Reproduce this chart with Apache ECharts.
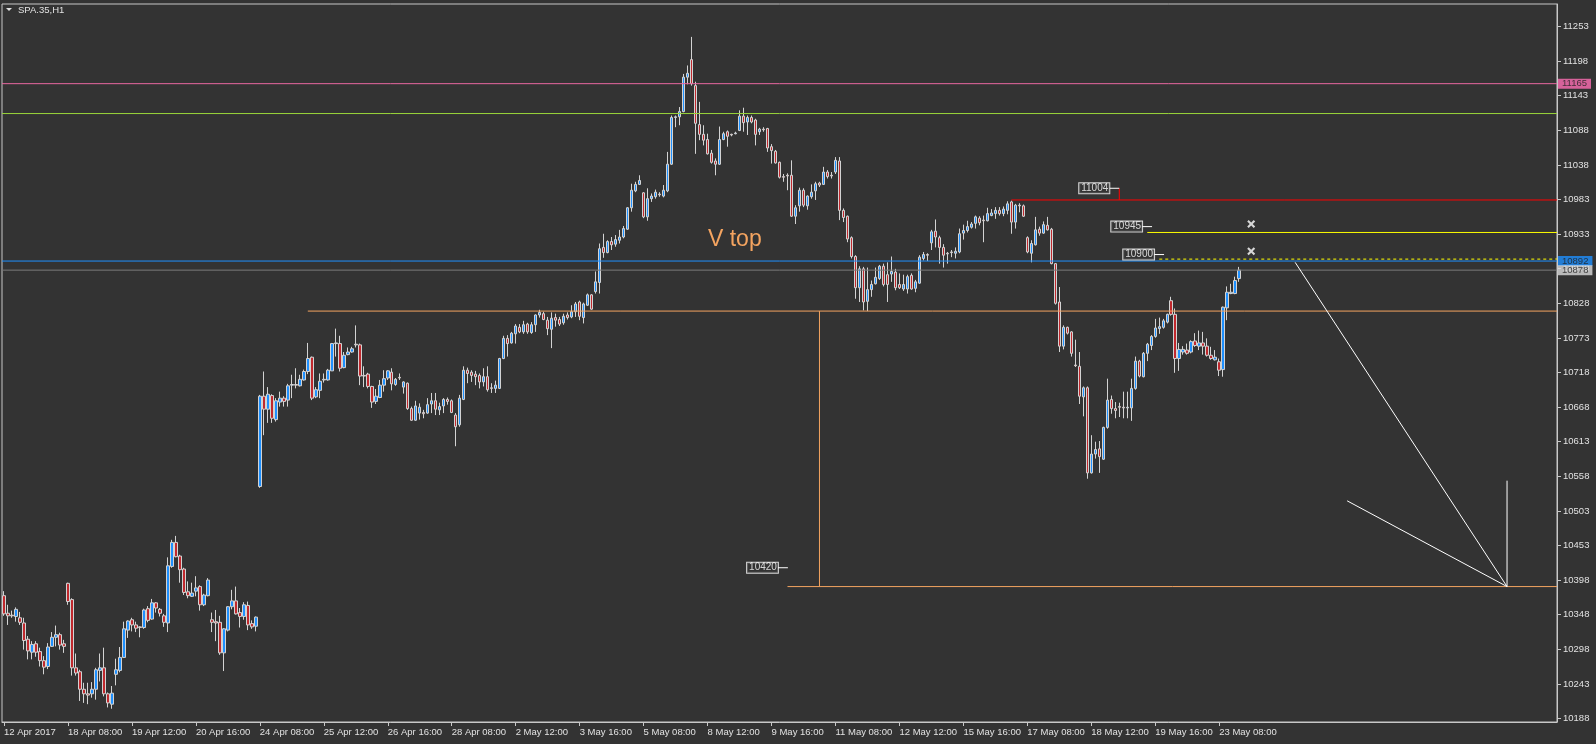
<!DOCTYPE html>
<html><head><meta charset="utf-8">
<script src="https://cdn.jsdelivr.net/npm/echarts@6/dist/echarts.min.js"></script>
<style>html,body{margin:0;padding:0;background:#333333;}#c{width:1596px;height:744px;}</style>
</head><body><div id="c"></div>
<script>
// ---------- candle data (hourly bars, SPA.35 H1) ----------
const openP = [
10377,10350,10347,10345,10343,10335,10310,10290,10303,10291,
10277,10268,10299,10313,10317,10303,10396,10371,10266,10260,
10233,10226,10226,10233,10262,10266,10226,10210,10256,10262,
10282,10324,10340,10332,10329,10328,10357,10341,10366,10356,
10346,10335,10422,10459,10438,10418,10383,10376,10384,10391,
10363,10377,10340,10337,10336,10289,10324,10360,10369,10351,
10345,10362,10334,10330,10545,10684,10664,10685,10648,10675,
10681,10678,10701,10702,10700,10709,10722,10744,10683,10693,
10709,10709,10723,10765,10765,10728,10748,10752,10764,10763,
10716,10718,10699,10676,10682,10701,10712,10721,10702,10713,
10698,10704,10665,10647,10658,10659,10658,10672,10677,10663,
10669,10679,10677,10655,10640,10679,10724,10721,10718,10716,
10706,10714,10697,10696,10696,10742,10773,10766,10780,10790,
10783,10795,10782,10794,10809,10811,10801,10787,10805,10802,
10797,10809,10806,10814,10829,10805,10824,10840,10845,10859,
10913,10905,10922,10918,10924,10929,10941,10974,11000,11010,
10997,10960,10988,10991,10995,10992,11000,11041,11113,11114,
11122,11175,11202,11162,11102,11087,11079,11058,11046,11041,
11079,11091,11087,11088,11093,11115,11106,11113,11109,11091,
11095,11096,11068,11061,11044,11022,11024,11024,10961,10977,
11001,10977,10991,11000,11012,11010,11029,11024,11029,11046,
10970,10961,10928,10899,10851,10880,10830,10848,10857,10865,
10884,10871,10872,10875,10856,10849,10849,10870,10850,10858,
10896,10902,10920,10938,10928,10913,10904,10906,10904,10906,
10935,10939,10944,10950,10958,10955,10954,10962,10965,10970,
10965,10970,10983,10952,10978,10977,10928,10904,10917,10941,
10935,10947,10941,10888,10829,10761,10790,10783,10732,10730,
10683,10697,10566,10595,10603,10587,10636,10679,10665,10668,
10667,10666,10666,10696,10738,10714,10750,10762,10776,10788,
10790,10798,10831,10810,10742,10752,10755,10752,10769,10761,
10766,10761,10747,10740,10737,10725,10820,10842,10842,10865];
const closeP = [
10349,10346,10346,10356,10336,10308,10292,10302,10290,10277,
10267,10298,10313,10317,10301,10299,10368,10266,10258,10233,
10226,10224,10233,10263,10266,10226,10212,10227,10263,10282,
10326,10338,10332,10327,10328,10355,10339,10366,10358,10350,
10336,10423,10459,10437,10417,10382,10377,10381,10389,10363,
10378,10401,10336,10335,10289,10326,10360,10369,10349,10345,
10363,10332,10329,10344,10684,10664,10687,10650,10677,10681,
10676,10700,10702,10701,10710,10722,10742,10681,10694,10707,
10710,10724,10765,10766,10727,10747,10752,10757,10763,10715,
10715,10699,10675,10684,10701,10711,10723,10703,10710,10712,
10706,10665,10647,10669,10667,10657,10671,10677,10664,10668,
10679,10676,10659,10637,10681,10724,10719,10716,10714,10706,
10714,10694,10696,10701,10742,10773,10765,10781,10792,10783,
10794,10783,10794,10809,10813,10802,10788,10804,10801,10795,
10807,10805,10814,10826,10807,10826,10840,10818,10860,10911,
10905,10922,10917,10925,10929,10942,10974,11001,11010,11016,
10960,10988,10992,10998,10994,11001,11041,11113,11114,11122,
11175,11181,11165,11104,11087,11078,11057,11044,11041,11079,
11088,11084,11086,11089,11115,11105,11113,11106,11087,11095,
11094,11066,11062,11043,11021,11021,11023,10961,10974,11001,
10978,10992,10998,11011,11009,11029,11022,11023,11047,10970,
10959,10926,10899,10851,10880,10829,10848,10856,10867,10884,
10856,10856,10876,10851,10851,10856,10868,10849,10860,10898,
10902,10901,10937,10929,10913,10901,10903,10905,10907,10934,
10939,10945,10949,10960,10951,10954,10965,10966,10970,10965,
10972,10980,10952,10978,10977,10961,10906,10919,10940,10935,
10948,10940,10888,10827,10761,10790,10781,10750,10731,10684,
10697,10566,10595,10602,10591,10636,10678,10665,10662,10667,
10666,10667,10696,10738,10715,10750,10764,10776,10789,10791,
10800,10810,10810,10742,10756,10756,10750,10768,10762,10766,
10761,10747,10742,10744,10724,10821,10844,10844,10862,10878];
const lowP = [
10346,10332,10343,10337,10332,10294,10279,10279,10283,10268,
10256,10264,10298,10299,10294,10289,10363,10254,10254,10215,
10212,10210,10220,10217,10245,10222,10205,10203,10239,10259,
10281,10312,10322,10321,10313,10326,10336,10340,10351,10345,
10329,10321,10420,10436,10397,10378,10373,10375,10376,10354,
10361,10376,10321,10307,10286,10261,10322,10356,10348,10328,
10340,10324,10326,10322,10543,10624,10643,10643,10645,10668,
10668,10668,10681,10696,10699,10708,10718,10678,10681,10681,
10705,10708,10723,10745,10722,10727,10747,10751,10759,10701,
10698,10696,10666,10672,10681,10691,10709,10693,10700,10709,
10688,10663,10646,10646,10648,10650,10657,10658,10655,10655,
10658,10671,10658,10607,10637,10678,10704,10706,10701,10696,
10699,10691,10689,10689,10695,10741,10745,10765,10765,10781,
10780,10780,10780,10783,10805,10801,10778,10758,10791,10792,
10794,10802,10804,10806,10801,10796,10823,10817,10842,10842,
10897,10904,10909,10914,10919,10927,10940,10968,10998,11009,
10958,10954,10983,10988,10991,10990,10998,11040,11098,11101,
11121,11164,11162,11057,11078,11070,11056,11042,11024,11040,
11078,11068,11084,11087,11092,11091,11086,11104,11070,11086,
11091,11060,11042,11042,11019,11014,11001,10960,10949,10968,
10975,10971,10988,10986,11006,11009,11019,11019,11026,10955,
10952,10921,10896,10834,10829,10816,10815,10837,10856,10863,
10853,10829,10860,10847,10849,10846,10842,10848,10844,10857,
10893,10892,10909,10913,10888,10882,10888,10898,10896,10904,
10925,10936,10942,10942,10947,10921,10953,10961,10957,10962,
10961,10964,10934,10942,10967,10960,10904,10890,10916,10931,
10934,10939,10887,10825,10752,10756,10779,10745,10729,10672,
10653,10557,10565,10588,10566,10586,10634,10657,10650,10652,
10650,10650,10646,10694,10713,10713,10738,10755,10774,10780,
10788,10796,10808,10720,10723,10748,10748,10750,10760,10755,
10748,10745,10740,10739,10715,10714,10801,10841,10841,10860];
const highP = [
10384,10363,10354,10359,10352,10343,10315,10307,10307,10297,
10284,10304,10321,10331,10320,10309,10397,10373,10288,10263,
10243,10243,10244,10266,10288,10297,10228,10238,10280,10298,
10337,10339,10343,10337,10330,10357,10361,10372,10367,10358,
10349,10436,10463,10469,10440,10420,10399,10397,10407,10393,
10380,10404,10351,10355,10346,10327,10361,10386,10391,10358,
10367,10368,10339,10345,10686,10722,10698,10687,10681,10691,
10684,10703,10717,10727,10717,10725,10766,10745,10698,10719,
10719,10726,10766,10788,10777,10752,10759,10760,10793,10765,
10730,10720,10700,10695,10709,10724,10724,10727,10712,10719,
10707,10705,10668,10677,10673,10663,10681,10689,10689,10674,
10681,10682,10679,10658,10686,10730,10728,10724,10723,10719,
10727,10730,10704,10708,10743,10777,10778,10783,10795,10795,
10800,10797,10798,10810,10817,10814,10806,10813,10811,10806,
10811,10813,10824,10829,10831,10828,10842,10841,10876,10919,
10934,10924,10929,10932,10940,10946,10975,11011,11014,11024,
10998,11004,10996,11002,10998,11009,11060,11116,11116,11129,
11180,11193,11237,11168,11137,11101,11088,11063,11050,11099,
11091,11093,11088,11091,11124,11128,11116,11116,11111,11097,
11098,11097,11072,11063,11045,11026,11027,11047,10978,11005,
11004,10993,11010,11014,11014,11037,11032,11029,11052,11052,
10973,10962,10930,10901,10884,10883,10882,10862,10882,10886,
10888,10890,10899,10880,10873,10871,10871,10873,10863,10901,
10906,10904,10940,10956,10931,10918,10906,10909,10913,10942,
10948,10954,10952,10962,10961,10962,10974,10972,10975,10975,
10976,10984,10985,10980,10981,10979,10930,10924,10960,10945,
10953,10960,10943,10889,10852,10793,10791,10784,10771,10752,
10699,10699,10624,10614,10615,10637,10711,10685,10675,10674,
10691,10691,10711,10745,10740,10752,10766,10778,10803,10805,
10803,10811,10837,10819,10766,10761,10765,10770,10781,10785,
10783,10773,10760,10755,10742,10822,10853,10857,10868,10883];

// ---------- axes ----------
const barCount = 389;          // bars that fit the window (data + empty future)
const labelEvery = 16;
const xLabels = ["12 Apr 2017","18 Apr 08:00","19 Apr 12:00","20 Apr 16:00","24 Apr 08:00",
  "25 Apr 12:00","26 Apr 16:00","28 Apr 08:00","2 May 12:00","3 May 16:00","5 May 08:00",
  "8 May 12:00","9 May 16:00","11 May 08:00","12 May 12:00","15 May 16:00","17 May 08:00",
  "18 May 12:00","19 May 16:00","23 May 08:00"];
const yTickLabels = ["10188","10243","10298","10348","10398","10453","10503","10558","10613",
  "10668","10718","10773","10828","10878","10933","10983","11038","11088","11143","11198","11253"];
const yTickStart = 10188, yTickStep = 53.25;
const yMin = 10182.6, yMax = 11287.6;

// ---------- drawn objects (bar index, price) ----------
const fullLevels = {pink: 11165, green: 11119, blue: 10892, gray: 10878};
const segRed     = [252, 10986, 388.5, 10986];
const segRedTick = [279, 10986, 279, 11004];
const segYellow  = [286, 10936, 388.5, 10936];
const segYellowD = [289, 10895, 388.5, 10895];
const segOrangeH = [76, 10815, 388.5, 10815];
const segOrangeV = [204, 10815, 204, 10391];
const segOrangeL = [196, 10391, 388.5, 10391];
const segWhiteA  = [323, 10890, 376, 10391];
const segWhiteB  = [336, 10523, 376, 10391];
const segWhiteV  = [376, 10554, 376, 10391];
const connectors = [[276.5, 11004, 279], [284.7, 10945, 287.2], [287.7, 10902, 290.2], [193.6, 10420, 196.1]];
const boxTexts   = ["11004", "10945", "10900", "10420"];
const crossMarks = [[312, 10949], [312, 10907]];
const priceTags  = [["11165", 11165], ["10892", 10892], ["10878", 10878]];

// ---------- build ----------
const cats = Array.from({length: barCount}, (_, i) => String(i));
const candles = openP.map((o, i) => [o, closeP[i], lowP[i], highP[i]]);
const yTicks = yTickLabels.map((_, k) => yTickStart + k * yTickStep);
const showX = i => i % labelEvery === 0 && i / labelEvery < xLabels.length;

const FONT = '"Liberation Sans", Arial, sans-serif';
const AXC = '#c8c8c8';
const TXT = '#e2e2e2';

function seg(s, color, type, width) {
  return {
    type: 'line', xAxisIndex: 1, yAxisIndex: 0, silent: true, animation: false,
    symbol: 'none', data: [[s[0], s[1]], [s[2], s[3]]], z: 4,
    lineStyle: {color: color, width: width || 1, type: type || 'solid'}
  };
}

const series = [{
  type: 'candlestick', xAxisIndex: 0, yAxisIndex: 0, data: candles,
  barWidth: 3, z: 3,
  itemStyle: {color: '#1e90ff', color0: '#c0282d', borderColor: '#d3d3d3', borderColor0: '#d3d3d3', borderWidth: 1}
}];
const E = 388.5, S = -0.5;
series.push(seg([S, fullLevels.pink, E, fullLevels.pink], '#e8679f'));
series.push(seg([S, fullLevels.green, E, fullLevels.green], '#9ad63a'));
series.push(seg([S, fullLevels.blue, E, fullLevels.blue], '#1e90ff'));
series.push(seg([S, fullLevels.gray, E, fullLevels.gray], '#7a7a7a'));
series.push(seg(segRed, '#ff0000'));
series.push(seg(segRedTick, '#ff0000'));
series.push(seg(segYellow, '#ffff00'));
series.push(seg(segYellowD, '#ffff00', [3, 3]));
series.push(seg(segOrangeH, '#f4a460'));
series.push(seg(segOrangeV, '#f4a460'));
series.push(seg(segOrangeL, '#f4a460'));
series.push(seg(segWhiteA, '#ffffff'));
series.push(seg(segWhiteB, '#ffffff'));
series.push(seg(segWhiteV, '#ffffff'));
connectors.forEach(c => series.push(seg([c[0], c[1], c[2], c[1]], '#ffffff')));

// text boxes
series.push({
  type: 'scatter', xAxisIndex: 1, yAxisIndex: 0, silent: true, symbolSize: 0, z: 6,
  data: connectors.map((c, i) => ({value: [c[0], c[1]], name: boxTexts[i]})),
  label: {show: true, position: 'left', distance: 0, formatter: p => p.name,
    color: '#ffffff', fontFamily: FONT, fontSize: 10, lineHeight: 10,
    backgroundColor: '#333333', borderColor: '#ffffff', borderWidth: 1, padding: [0, 1, 0, 2]}
});
// crosses
series.push({
  type: 'scatter', xAxisIndex: 1, yAxisIndex: 0, silent: true, z: 6,
  symbol: 'path://M1.5,0L4,2.5L6.5,0L8,1.5L5.5,4L8,6.5L6.5,8L4,5.5L1.5,8L0,6.5L2.5,4L0,1.5Z', symbolSize: 8,
  itemStyle: {color: '#ffffff'}, data: crossMarks
});
// price tags on the right
const tagBg = ['#ff6eb4', '#1e90ff', '#dcdcdc'];
series.push({
  type: 'scatter', xAxisIndex: 1, yAxisIndex: 0, silent: true, symbolSize: 0, z: 10, clip: false,
  data: priceTags.map((t, i) => ({value: [E, t[1]], name: t[0],
    label: {backgroundColor: tagBg[i]}})),
  label: {show: true, position: 'right', distance: 1, formatter: p => p.name,
    color: '#202020', fontFamily: FONT, fontSize: 9.5, lineHeight: 10, padding: [0, 4, 0, 4]}
});

const chart = echarts.init(document.getElementById('c'), null, {renderer: 'canvas'});
chart.setOption({
  animation: false,
  backgroundColor: '#333333',
  grid: {left: 2, right: 39, top: 4, bottom: 22, show: true, borderColor: AXC, borderWidth: 1, containLabel: false},
  xAxis: [{
    type: 'category', data: cats, boundaryGap: true, gridIndex: 0,
    axisLine: {show: true, onZero: false, lineStyle: {color: AXC}},
    axisTick: {show: true, interval: (i) => showX(i), alignWithLabel: true, length: 4, lineStyle: {color: AXC}},
    axisLabel: {show: true, interval: (i) => showX(i), align: 'left', margin: 5, color: TXT,
      fontFamily: FONT, fontSize: 9.5, hideOverlap: false,
      formatter: (v, i) => xLabels[i / labelEvery] || ''},
    splitLine: {show: false}
  }, {
    type: 'value', gridIndex: 0, min: S, max: E, show: false,
    axisLine: {show: false, onZero: false}, axisTick: {show: false}, axisLabel: {show: false}
  }],
  yAxis: [{
    type: 'value', position: 'right', min: yMin, max: yMax, scale: true,
    axisLine: {show: true, onZero: false, lineStyle: {color: AXC}},
    axisTick: {show: true, length: 4, customValues: yTicks, lineStyle: {color: AXC}},
    axisLabel: {show: true, customValues: yTicks, margin: 6, color: TXT, fontFamily: FONT, fontSize: 9.5,
      formatter: v => yTickLabels[Math.round((v - yTickStart) / yTickStep)] || ''},
    splitLine: {show: false}
  }],
  graphic: [
    {type: 'polygon', shape: {points: [[6, 8], [12, 8], [9, 11]]}, style: {fill: TXT}},
    {type: 'text', left: 18, top: 5, style: {text: 'SPA.35,H1', fill: TXT, font: '9.5px ' + FONT}},
    {type: 'text', left: 708, top: 228, style: {text: 'V top', fill: '#f4a460', font: '23px ' + FONT}}
  ],
  series: series
});
</script>
</body></html>
